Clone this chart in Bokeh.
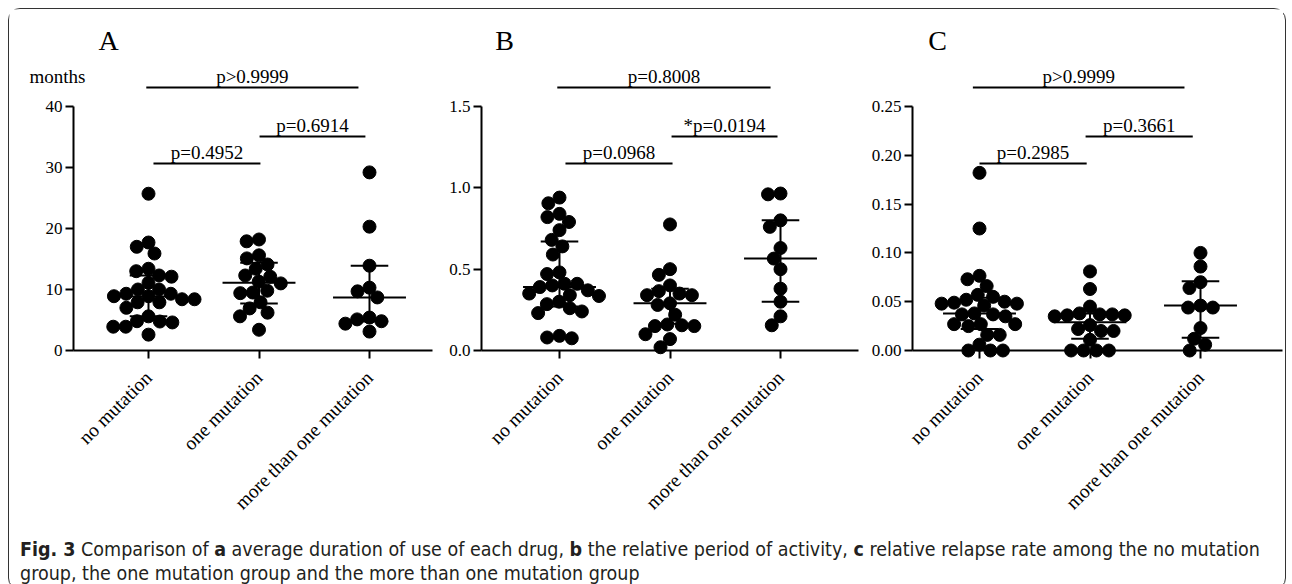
import math
import numpy as np
from bokeh.plotting import figure
from bokeh.models import FixedTicker, Label, Div
from bokeh.layouts import row, column
from bokeh.core.properties import value
from bokeh.embed import file_html
from bokeh.resources import INLINE

# ---------------- data ----------------
groups = ["no mutation", "one mutation", "more than one mutation"]

# Panel A: average duration of use (months)
a_no = [25.7, 17.7, 17.0, 15.9, 13.4, 13.0, 12.3, 12.1, 11.1, 10.0, 10.0, 9.3, 9.3,
        8.9, 8.9, 8.4, 8.4, 7.9, 7.9, 7.0, 5.6, 4.8, 4.75, 4.6, 3.9, 3.9, 2.6]
a_one = [18.2, 17.9, 15.6, 15.1, 14.1, 13.4, 12.3, 12.1, 11.3, 11.0, 9.8, 9.5, 9.4,
         7.9, 6.9, 6.2, 5.6, 3.4]
a_more = [29.2, 20.3, 13.9, 10.3, 9.7, 8.7, 5.4, 5.1, 4.8, 4.4, 3.1]
a_mid = [8.85, 11.1, 8.7]
a_low = [5.6, 7.7, 4.75]
a_high = [12.3, 14.4, 13.9]

# Panel B: relative period of activity
b_no = [0.94, 0.905, 0.84, 0.82, 0.79, 0.74, 0.68, 0.64, 0.59, 0.48, 0.47, 0.41, 0.41,
        0.40, 0.39, 0.37, 0.35, 0.34, 0.335, 0.30, 0.285, 0.26, 0.24, 0.23, 0.09, 0.08, 0.075]
b_one = [0.775, 0.50, 0.465, 0.40, 0.365, 0.35, 0.34, 0.34, 0.29, 0.28, 0.22, 0.16,
         0.155, 0.15, 0.15, 0.10, 0.07, 0.02]
b_more = [0.965, 0.96, 0.80, 0.76, 0.63, 0.565, 0.50, 0.38, 0.30, 0.21, 0.155]
b_mid = [0.39, 0.29, 0.565]
b_low = [0.27, 0.165, 0.30]
b_high = [0.67, 0.38, 0.80]

# Panel C: relative relapse rate
c_no = [0.182, 0.125, 0.0765, 0.073, 0.066, 0.057, 0.055, 0.052, 0.050, 0.049, 0.048,
        0.048, 0.046, 0.038, 0.037, 0.037, 0.035, 0.027, 0.027, 0.027, 0.025, 0.016,
        0.016, 0.006, 0.0, 0.0, 0.0]
c_one = [0.081, 0.063, 0.045, 0.038, 0.037, 0.037, 0.036, 0.036, 0.035, 0.026, 0.022,
         0.02, 0.02, 0.011, 0.0, 0.0, 0.0, 0.0]
c_more = [0.100, 0.086, 0.070, 0.064, 0.046, 0.044, 0.044, 0.023, 0.012, 0.006, 0.0]
c_mid = [0.038, 0.029, 0.046]
c_low = [0.022, 0.012, 0.013]
c_high = [0.054, 0.038, 0.071]

# y axis ticks
a_ticks = [0, 10, 20, 30, 40]
a_tick_labels = ["0", "10", "20", "30", "40"]
b_ticks = [0, 0.5, 1.0, 1.5]
b_tick_labels = ["0.0", "0.5", "1.0", "1.5"]
c_ticks = [0, 0.05, 0.10, 0.15, 0.20, 0.25]
c_tick_labels = ["0.00", "0.05", "0.10", "0.15", "0.20", "0.25"]

# significance brackets (group span and label)
a_br_x1 = [0.98, 1.045, 2.005]
a_br_x2 = [2.90, 2.013, 2.963]
a_br_text = ["p>0.9999", "p=0.4952", "p=0.6914"]
b_br_x1 = [0.98, 1.054, 2.014]
b_br_x2 = [2.91, 2.023, 2.973]
b_br_text = ["p=0.8008", "p=0.0968", "*p=0.0194"]
c_br_x1 = [0.94, 1.0, 1.96]
c_br_x2 = [2.855, 1.97, 2.93]
c_br_text = ["p>0.9999", "p=0.2985", "p=0.3661"]

# ---------------- layout constants (page pixels) ----------------
SERIF = "Liberation Serif"
CANVAS_TOP = 10
CANVAS_H = 524
AXIS_TOP = 107
AXIS_ZERO = 351
SPACING = 110.5
BR_ROWS = [88, 164, 137]
DOT = 13


def swarm(vals, ky, sx, d=12.5):
    arr = np.array(vals, dtype=float)
    order = np.argsort(-arr, kind="stable")
    placed = []
    offs = np.zeros(len(arr))
    for i in order:
        y = arr[i] * ky
        cands = [0.0]
        for xj, yj in placed:
            dy = y - yj
            if abs(dy) < d:
                w = math.sqrt(d * d - dy * dy)
                cands += [xj - w, xj + w]
        cands.sort(key=lambda c: (round(abs(c), 6), c))
        chosen = 0.0
        for c in cands:
            if all((c - xj) ** 2 + (y - yj) ** 2 >= d * d - 1e-6 for xj, yj in placed):
                chosen = c
                break
        placed.append((chosen, y))
        offs[i] = chosen / sx
    return offs


def make_panel(letter, canvas_left, width, cat1_px, axis_px, axis_right_px,
               series, mid, low, high, ymax, ticks, tick_labels,
               br_x1, br_x2, br_text, letter_px, extra_label=None):
    k = (AXIS_ZERO - AXIS_TOP) / ymax
    y_end = ymax + (AXIS_TOP - CANVAS_TOP) / k
    y_start = -(CANVAS_TOP + CANVAS_H - AXIS_ZERO) / k
    x_start = 1 - (cat1_px - canvas_left) / SPACING
    x_end = x_start + width / SPACING

    def px2x(px):
        return x_start + (px - canvas_left) / SPACING

    def py2y(py):
        return ymax + (AXIS_TOP - py) / k

    p = figure(width=width, height=CANVAS_H, x_range=(x_start, x_end),
               y_range=(y_start, y_end), output_backend="svg",
               toolbar_location=None, min_border=0)
    p.outline_line_color = None
    p.grid.visible = False
    p.background_fill_color = "white"
    p.border_fill_color = "white"

    # axes, drawn inside the frame at fixed positions
    p.yaxis.ticker = FixedTicker(ticks=ticks)
    p.yaxis.major_label_overrides = {t: l for t, l in zip(ticks, tick_labels)}
    p.yaxis.bounds = (0, ymax)
    p.yaxis.fixed_location = px2x(axis_px)
    p.xaxis.ticker = FixedTicker(ticks=[1, 2, 3])
    p.xaxis.major_label_overrides = {i + 1: g for i, g in enumerate(groups)}
    p.xaxis.fixed_location = 0
    p.xaxis.bounds = (px2x(axis_px), px2x(axis_right_px))
    p.xaxis.major_label_orientation = math.pi / 4
    for ax in (p.xaxis, p.yaxis):
        ax.axis_line_color = "black"
        ax.axis_line_width = 2
        ax.major_tick_line_color = "black"
        ax.major_tick_line_width = 2
        ax.major_tick_out = 8
        ax.major_tick_in = 0
        ax.minor_tick_line_color = None
        ax.major_label_text_font = SERIF
        ax.major_label_text_color = "black"
    p.yaxis.major_label_text_font_size = "17px"
    p.yaxis.major_label_standoff = 3
    p.xaxis.major_label_text_font_size = "19.5px"
    p.xaxis.major_label_standoff = 16

    # dots
    for gi, vals in enumerate(series):
        offs = swarm(vals, k, SPACING)
        xs = [gi + 1 + o for o in offs]
        p.scatter(xs, vals, size=DOT, color="black", line_color="black")

    # centre line and error bars
    cx = [1, 2, 3]
    p.segment(x0=cx, y0=low, x1=cx, y1=high, line_color="black", line_width=2)
    p.segment(x0=[c - 0.33 for c in cx], y0=mid, x1=[c + 0.33 for c in cx], y1=mid,
              line_color="black", line_width=2)
    p.segment(x0=[c - 0.17 for c in cx], y0=low, x1=[c + 0.17 for c in cx], y1=low,
              line_color="black", line_width=2)
    p.segment(x0=[c - 0.17 for c in cx], y0=high, x1=[c + 0.17 for c in cx], y1=high,
              line_color="black", line_width=2)

    # significance brackets
    levels = [py2y(r) for r in BR_ROWS]
    p.segment(x0=br_x1, y0=levels, x1=br_x2, y1=levels, line_color="black", line_width=2)
    p.text(x=[(a + b) / 2 for a, b in zip(br_x1, br_x2)], y=levels, text=br_text,
           text_font=value(SERIF), text_font_size="19px", text_color="black",
           text_align="center", text_baseline="bottom", y_offset=-1)

    # panel letter
    p.add_layout(Label(x=px2x(letter_px[0]), y=py2y(letter_px[1]), text=letter,
                       text_font=SERIF, text_font_size="28px", text_color="black",
                       text_align="center", text_baseline="middle"))
    if extra_label:
        txt, lx, ly = extra_label
        p.add_layout(Label(x=px2x(lx), y=py2y(ly), text=txt, text_font=SERIF,
                           text_font_size="19px", text_color="black",
                           text_align="center", text_baseline="middle"))
    return p


pA = make_panel("A", 9, 431, 148, 73, 432, [a_no, a_one, a_more], a_mid, a_low, a_high,
                40, a_ticks, a_tick_labels, a_br_x1, a_br_x2, a_br_text, (108, 41),
                extra_label=("months", 57, 77))
pB = make_panel("B", 440, 426, 559, 481, 858, [b_no, b_one, b_more], b_mid, b_low, b_high,
                1.5, b_ticks, b_tick_labels, b_br_x1, b_br_x2, b_br_text, (504, 41))
pC = make_panel("C", 866, 417, 979, 912, 1282, [c_no, c_one, c_more], c_mid, c_low, c_high,
                0.25, c_ticks, c_tick_labels, c_br_x1, c_br_x2, c_br_text, (937, 41))

caption = Div(
    text=("<b>Fig. 3</b> Comparison of <b>a</b> average duration of use of each drug, "
          "<b>b</b> the relative period of activity, <b>c</b> relative relapse rate among "
          "the no mutation<br>group, the one mutation group and the more than one "
          "mutation group"),
    width=1266, height=46,
    styles={"font-family": "'Liberation Sans Narrow', 'DejaVu Sans Condensed', 'Roboto Condensed', sans-serif",
            "font-size": "19.5px", "line-height": "24px", "color": "#231f20",
            "padding-left": "6px", "white-space": "nowrap"})

layout = column(row(pA, pB, pC), caption, margin=(8, 0, 0, 8),
                styles={"border": "1.5px solid #333", "border-radius": "12px"})

open("out.html", "w").write(file_html(layout, INLINE))
